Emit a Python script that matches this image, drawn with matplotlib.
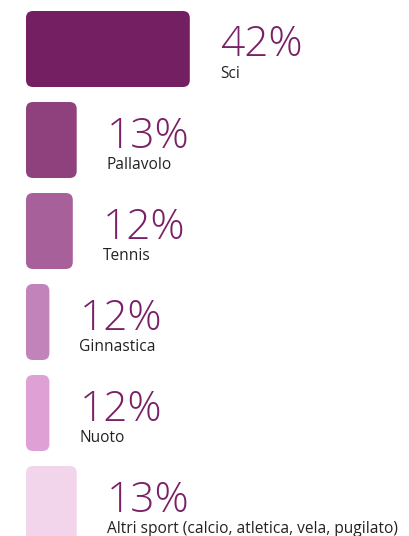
import matplotlib
matplotlib.use("Agg")
import matplotlib.pyplot as plt
from matplotlib.patches import FancyBboxPatch

# data
sports = ["Sci", "Pallavolo", "Tennis", "Ginnastica", "Nuoto",
          "Altri sport (calcio, atletica, vela, pugilato)"]
pct_labels = ["42%", "13%", "12%", "12%", "12%", "13%"]
bar_len = [42, 13, 12, 6, 6, 13]   # drawn length of each bar, in % units
colors = ["#731f61", "#8f417e", "#a8609a", "#c283ba", "#dfa0d5", "#f2d5eb"]

W, H = 410, 536
px_x = 3.9      # pixels per % unit
px_y = 91.0     # pixels per row
x0_px, y0_px = 26, 49

fig = plt.figure(figsize=(W / 100, H / 100), dpi=100)
ax = fig.add_axes([0, 0, 1, 1])
ax.set_xlim(-x0_px / px_x, (W - x0_px) / px_x)
ax.set_ylim((H - y0_px) / px_y, -y0_px / px_y)
ax.axis("off")

bar_h = 76 / px_y
r = 7 / px_x
for i, (name, lab, L, c) in enumerate(zip(sports, pct_labels, bar_len, colors)):
    box = FancyBboxPatch((0, i - bar_h / 2), L, bar_h,
                         boxstyle=f"round,pad=0,rounding_size={r}",
                         mutation_aspect=px_x / px_y,
                         facecolor=c, edgecolor="none")
    ax.add_patch(box)
    tx = L + 30 / px_x
    ax.text(tx, i + 7.5 / px_y, lab, fontsize=30.5, color="#7a2067",
            family="Open Sans", fontweight="light", va="baseline", ha="left")
    ax.text(tx, i + 29 / px_y, name, fontsize=11.2, color="#222222",
            family="Open Sans", va="baseline", ha="left")

fig.savefig("out.png", dpi=100)
